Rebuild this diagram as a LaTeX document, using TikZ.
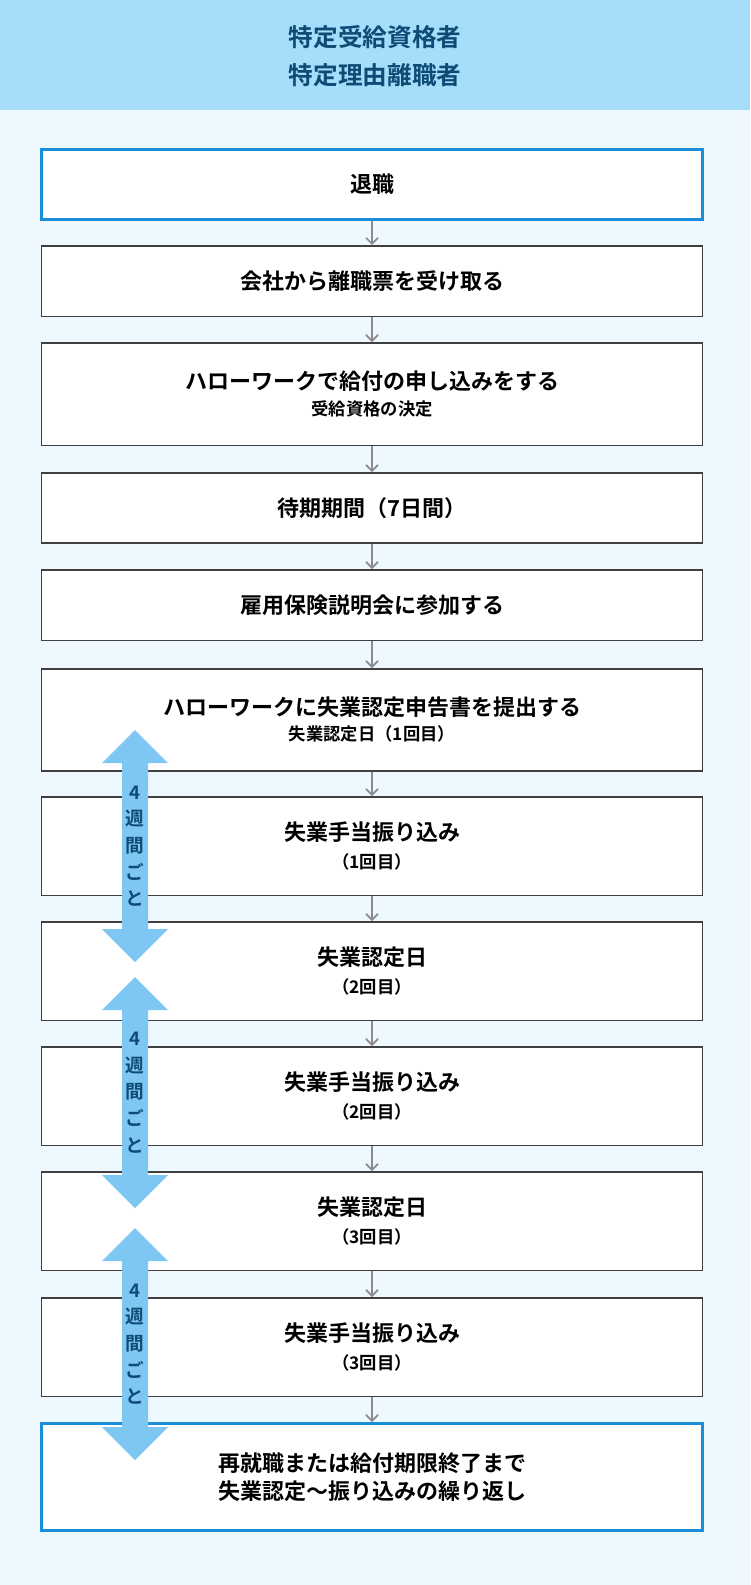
\documentclass[tikz,border=0pt]{standalone}
\usepackage{fontspec}
\setmainfont{Noto Sans CJK JP}[BoldFont={Noto Sans CJK JP Bold}]
\usetikzlibrary{arrows.meta}
\definecolor{band}{HTML}{A6DDFB}
\definecolor{bg}{HTML}{EEF8FF}
\definecolor{ink}{HTML}{0F4C75}
\definecolor{edge}{HTML}{1A8FD8}
\definecolor{dbl}{HTML}{7EC7F2}
\tikzset{
  stepbox/.style={draw=black!75, line width=1.2pt, fill=white, minimum width=496pt, anchor=north, font=\bfseries\fontsize{16.5}{21}\selectfont, align=center},
  keybox/.style={stepbox, draw=edge, line width=2.2pt},
  link/.style={draw=black!45, line width=1.3pt, -{Straight Barb[width=9pt,length=4.5pt]}}
}
\newcommand{\subtext}[1]{{\bfseries\fontsize{13}{15}\selectfont #1}}
\newcommand{\fourweeks}[2]{% double arrow between y #1 and #2
  \fill[dbl] (135,#1) -- (168,#1+33) -- (148,#1+33) -- (148,#2-33) -- (168,#2-33) -- (135,#2)
    -- (102,#2-33) -- (122,#2-33) -- (122,#1+33) -- (102,#1+33) -- cycle;
  \node[text=ink, font=\bfseries\fontsize{14}{20}\selectfont, align=center] at (135,{(#1+#2)/2}) {4\\週\\間\\ご\\と};
}
\begin{document}
\begin{tikzpicture}[x=0.75pt, y=-0.75pt]
\clip (0,0) rectangle (750,1585);
\fill[bg] (0,0) rectangle (750,1585);
\fill[band] (0,0) rectangle (750,110);
\node[text=ink, font=\bfseries\fontsize{18.5}{28}\selectfont, align=center] (title) at (375,56) {特定受給資格者\\特定理由離職者};
\node[keybox, minimum height=52.5pt] (b1) at (372,148) {退職};
\node[stepbox, minimum height=53pt] (b2) at (372,245) {会社から離職票を受け取る};
\node[stepbox, minimum height=77pt] (b3) at (372,342) {ハローワークで給付の申し込みをする\\[-2pt]\subtext{受給資格の決定}};
\node[stepbox, minimum height=52.5pt] (b4) at (372,472) {待期期間（7日間）};
\node[stepbox, minimum height=53pt] (b5) at (372,569) {雇用保険説明会に参加する};
\node[stepbox, minimum height=76.5pt] (b6) at (372,668) {ハローワークに失業認定申告書を提出する\\[-2pt]\subtext{失業認定日（1回目）}};
\node[stepbox, minimum height=74pt] (b7) at (372,796) {失業手当振り込み\\\subtext{（1回目）}};
\node[stepbox, minimum height=74pt] (b8) at (372,921) {失業認定日\\\subtext{（2回目）}};
\node[stepbox, minimum height=74pt] (b9) at (372,1046) {失業手当振り込み\\\subtext{（2回目）}};
\node[stepbox, minimum height=74pt] (b10) at (372,1171) {失業認定日\\\subtext{（3回目）}};
\node[stepbox, minimum height=74pt] (b11) at (372,1297) {失業手当振り込み\\\subtext{（3回目）}};
\node[keybox, minimum height=80pt] (b12) at (372,1422) {再就職または給付期限終了まで\\失業認定〜振り込みの繰り返し};
\foreach \a/\b in {b1/b2,b2/b3,b3/b4,b4/b5,b5/b6,b6/b7,b7/b8,b8/b9,b9/b10,b10/b11,b11/b12}
  \draw[link] (\a.south) -- (\b.north);
\fourweeks{730}{962}
\fourweeks{977}{1208}
\fourweeks{1228}{1460}
\end{tikzpicture}
\end{document}
